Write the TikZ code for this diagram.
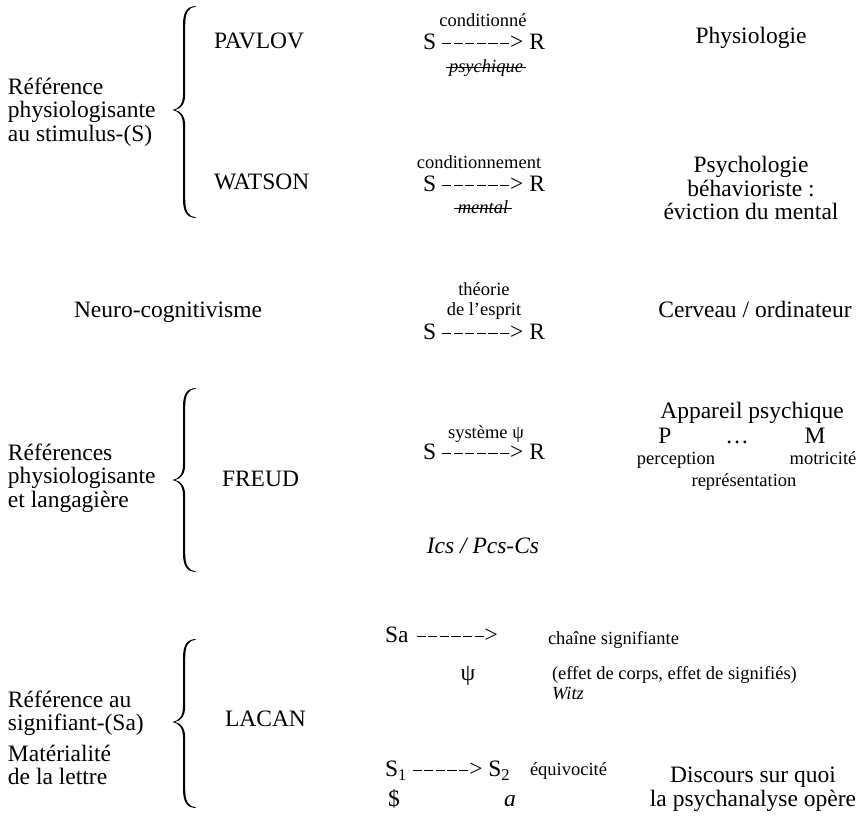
\documentclass[tikz,border=0pt]{standalone}
\usepackage{fontspec}
\setmainfont{Liberation Serif}
\newcommand\onedash{\rule[0.23em]{9.2pt}{1.15pt}\kern2.4pt}
\newcommand\arrowsix{\onedash\onedash\onedash\onedash\onedash\onedash\kern-1.4pt>}
\newcommand\arrowfive{\onedash\onedash\onedash\onedash\onedash\kern-1.4pt>}
\newcommand\mybrace[3]{%
  \fill (195.5,#1) .. controls (187,#1+0.5) and (183,#1+6) .. (183,#1+19)
    -- (183,#2-16) .. controls (183,#2-5) and (179,#2-1.5) .. (172.5,#2)
    .. controls (179,#2+1.5) and (183,#2+5) .. (183,#2+16)
    -- (183,#3-19) .. controls (183,#3-6) and (187,#3-0.5) .. (195.5,#3)
    -- (195.5,#3-0.9) .. controls (188,#3-1.6) and (185.2,#3-7) .. (185.2,#3-19)
    -- (185.2,#2+16) .. controls (185.2,#2+6) and (181,#2+1.2) .. (175,#2)
    .. controls (181,#2-1.2) and (185.2,#2-6) .. (185.2,#2-16)
    -- (185.2,#1+19) .. controls (185.2,#1+7) and (188,#1+1.6) .. (195.5,#1+0.9) -- cycle;}
\begin{document}
\begin{tikzpicture}[x=1pt,y=-1pt,
  every node/.style={inner sep=0pt,outer sep=0pt},
  big/.style={font=\fontsize{23.5}{23.5}\selectfont},
  sml/.style={font=\fontsize{18.5}{20}\selectfont},
  lefttxt/.style={big,align=left,anchor=west},
  ctr/.style={big,align=center,anchor=mid},
  strike/.style={line width=0.8pt}]
\useasboundingbox (0,0) rectangle (866,816);

% ---------- braces ----------
\mybrace{6}{110}{218}
\mybrace{388}{480}{572}
\mybrace{639}{722}{808}

\begin{scope}[shift={(0,4)}]
% ---------- Pavlov / Watson ----------
\node[lefttxt] (ref1) at (8,108) {Référence\\physiologisante\\au stimulus-(S)};
\node[big,anchor=mid west] (pavlov) at (214,42) {PAVLOV};
\node[big,anchor=mid west] (watson) at (214,183) {WATSON};

\node[sml,anchor=mid] (cond) at (483,20) {conditionné};
\node[big,anchor=mid west] (sr1) at (423,43) {S \arrowsix\ R};
\node[sml,anchor=mid] (psy) at (486,66) {\textit{psychique}};
\draw[strike] ([xshift=-3pt,yshift=4.5pt]psy.base west) -- ([xshift=3pt,yshift=4.5pt]psy.base east);

\node[sml,anchor=mid] (condt) at (479,162) {conditionnement};
\node[big,anchor=mid west] (sr2) at (423,185) {S \arrowsix\ R};
\node[sml,anchor=mid] (ment) at (483,207) {\textit{mental}};
\draw[strike] ([xshift=-4pt,yshift=4.5pt]ment.base west) -- ([xshift=4pt,yshift=4.5pt]ment.base east);

\node[ctr] (physio) at (751,37) {Physiologie};
\node[big,align=center,anchor=center] (psycho) at (751,184) {Psychologie\\béhavioriste :\\éviction du mental};

% ---------- Neuro ----------
\node[ctr] (neuro) at (168,311) {Neuro-cognitivisme};
\node[sml,align=center,anchor=center] (theo) at (484,297) {théorie\\de l’esprit};
\node[big,anchor=mid west] (sr3) at (423,333) {S \arrowsix\ R};
\node[ctr] (cerv) at (755,311) {Cerveau / ordinateur};

% ---------- Freud ----------
\node[lefttxt] (ref2) at (8,474) {Références\\physiologisante\\et langagière};
\node[big,anchor=mid west] (freud) at (222,480) {FREUD};
\node[sml,anchor=mid] (sys) at (486,432) {système ψ};
\node[big,anchor=mid west] (sr4) at (423,453) {S \arrowsix\ R};
\node[big,anchor=mid] (ics) at (483,547) {\textit{Ics / Pcs-Cs}};

\node[ctr] (app) at (752,412) {Appareil psychique};
\node[big,anchor=mid] (P) at (665,437) {P};
\node[big,anchor=mid] (dots) at (737,437) {…};
\node[big,anchor=mid] (M) at (815,437) {M};
\node[sml,anchor=mid] (perc) at (676,458) {perception};
\node[sml,anchor=mid] (motr) at (823,458) {motricité};
\node[sml,anchor=mid] (repr) at (744,480) {représentation};

% ---------- Lacan ----------
\node[lefttxt] (ref3) at (8,709) {Référence au\\signifiant-(Sa)};
\node[lefttxt] (mat) at (8,761) {Matérialité\\de la lettre};
\node[big,anchor=mid west] (lacan) at (225,720) {LACAN};

\node[big,anchor=mid west] (sa) at (385,636) {Sa\kern8pt\arrowsix};
\node[sml,anchor=mid west] (chaine) at (548,638) {chaîne signifiante};
\node[big,anchor=mid] (psi) at (468,674) {ψ};
\node[sml,anchor=mid west] (effet) at (552,673) {(effet de corps, effet de signifiés)};
\node[sml,anchor=mid west] (witz) at (552,693) {\textit{Witz}};

\node[big,anchor=mid west] (s1) at (385,770) {S\textsubscript{1} \arrowfive\ S\textsubscript{2}};
\node[sml,anchor=mid west] (equi) at (530,769) {équivocité};
\node[big,anchor=mid west] (sbar) at (388,800) {\$};
\node[big,anchor=mid] (obja) at (510,800) {\textit{a}};
\node[big,align=center,anchor=center] (disc) at (753,785) {Discours sur quoi\\la psychanalyse opère};
\end{scope}
\end{tikzpicture}
\end{document}
